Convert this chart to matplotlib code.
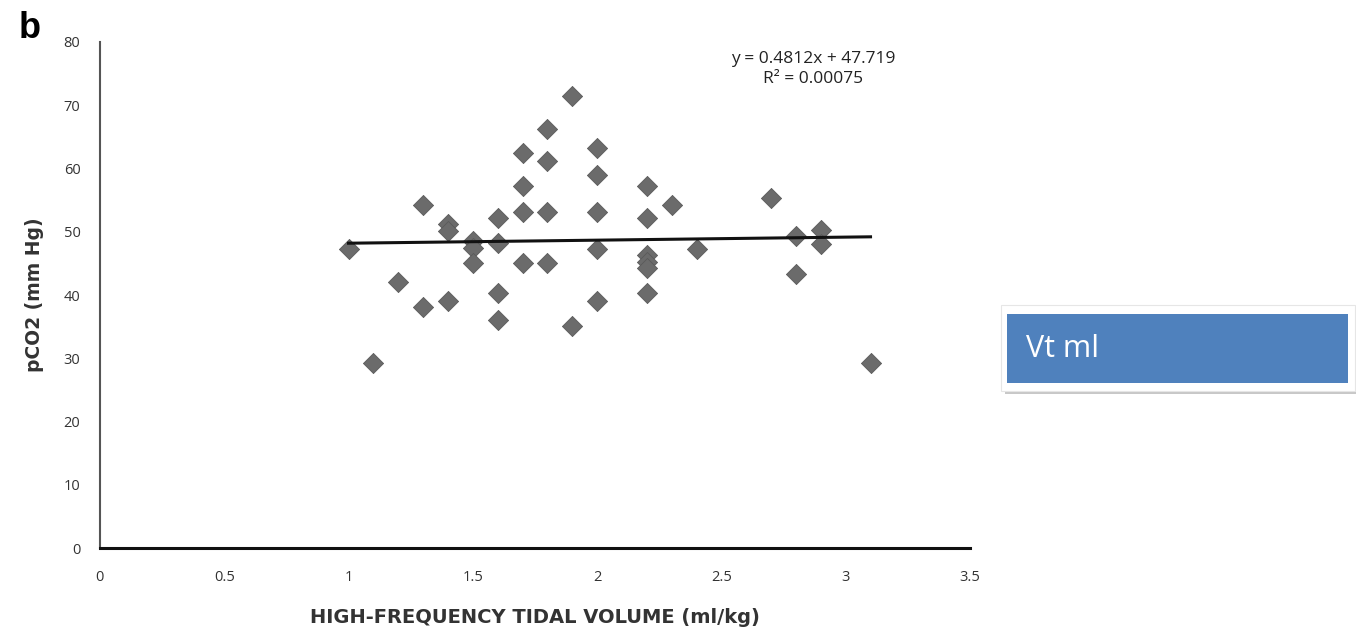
import numpy as np
import matplotlib.pyplot as plt
from matplotlib.patches import Rectangle

# High-frequency tidal volume (ml/kg) and pCO2 (mm Hg)
tidal_volume = [1.0, 1.1, 1.2, 1.3, 1.3, 1.4, 1.4, 1.4, 1.5, 1.5, 1.5,
                1.6, 1.6, 1.6, 1.6, 1.7, 1.7, 1.7, 1.7, 1.8, 1.8, 1.8, 1.8,
                1.9, 1.9, 2.0, 2.0, 2.0, 2.0, 2.0, 2.2, 2.2, 2.2, 2.2, 2.2, 2.2,
                2.3, 2.4, 2.7, 2.8, 2.8, 2.9, 2.9, 3.1]
pco2 = [47.3, 29.2, 42.1, 54.2, 38.1, 51.2, 50.1, 39.1, 48.6, 47.5, 45.0,
        52.2, 48.2, 40.3, 36.0, 62.5, 57.2, 53.1, 45.1, 66.2, 61.2, 53.1, 45.1,
        71.5, 35.1, 63.2, 59.0, 53.1, 47.3, 39.1, 57.2, 52.2, 46.3, 45.2, 44.3, 40.3,
        54.2, 47.3, 55.3, 49.3, 43.3, 50.3, 48.1, 29.2]

slope = 0.4812
intercept = 47.719
r_squared = "0.00075"

x_ticks = [0, 0.5, 1, 1.5, 2, 2.5, 3, 3.5]
x_tick_labels = ["0", "0.5", "1", "1.5", "2", "2.5", "3", "3.5"]
y_ticks = [0, 10, 20, 30, 40, 50, 60, 70, 80]

plt.rcParams['font.family'] = ['Open Sans', 'DejaVu Sans']

fig = plt.figure(figsize=(13.56, 6.36), dpi=100)
ax = fig.add_axes([0.0737, 0.138, 0.6416, 0.796])

ax.scatter(tidal_volume, pco2, marker='D', s=105, color='#6b6b6b',
           edgecolors='#5a5a5a', linewidths=0.6, zorder=3)

# linear trend line over the data range
fit_x = np.array([min(tidal_volume), max(tidal_volume)])
ax.plot(fit_x, slope * fit_x + intercept, color='#111111', lw=2.2, zorder=4)

ax.set_xlim(0, 3.5)
ax.set_ylim(0, 80)
ax.set_xticks(x_ticks)
ax.set_xticklabels(x_tick_labels)
ax.set_yticks(y_ticks)
ax.tick_params(length=0, labelsize=10.5, colors='#333333', pad=14)
ax.tick_params(axis='x', pad=16)

for side in ['top', 'right']:
    ax.spines[side].set_visible(False)
ax.spines['left'].set_color('#555555')
ax.spines['left'].set_linewidth(1.5)
ax.spines['bottom'].set_color('#111111')
ax.spines['bottom'].set_linewidth(2.2)

ax.set_xlabel("HIGH-FREQUENCY TIDAL VOLUME (ml/kg)", fontsize=14,
              fontweight='bold', color='#333333', labelpad=16,
              family='DejaVu Sans')
ax.set_ylabel("pCO2 (mm Hg)", fontsize=13.5, fontweight='bold',
              color='#333333', labelpad=14, family='DejaVu Sans')

ax.text(2.87, 78.6, f"y = {slope}x + {intercept}\nR² = {r_squared}",
        ha='center', va='top', fontsize=12.5, color='#222222', linespacing=1.35)

fig.text(0.022, 0.955, "b", fontsize=26, fontweight='bold', ha='center',
         va='center', family='Liberation Sans')

# "Vt ml" label box with white frame and soft shadow
shadow = Rectangle((0.741, 0.380), 0.261, 0.135, transform=fig.transFigure,
                   facecolor='#c8c8c8', edgecolor='none', zorder=1)
frame = Rectangle((0.738, 0.386), 0.261, 0.135, transform=fig.transFigure,
                  facecolor='white', edgecolor='#e6e6e6', lw=0.8, zorder=2)
box = Rectangle((0.7425, 0.398), 0.2515, 0.108, transform=fig.transFigure,
                facecolor='#4f81bd', edgecolor='none', zorder=3)
for p in (shadow, frame, box):
    fig.patches.append(p)
fig.text(0.757, 0.452, "Vt ml", fontsize=22, color='white', ha='left',
         va='center', zorder=4)

fig.savefig("out.png", dpi=100)
